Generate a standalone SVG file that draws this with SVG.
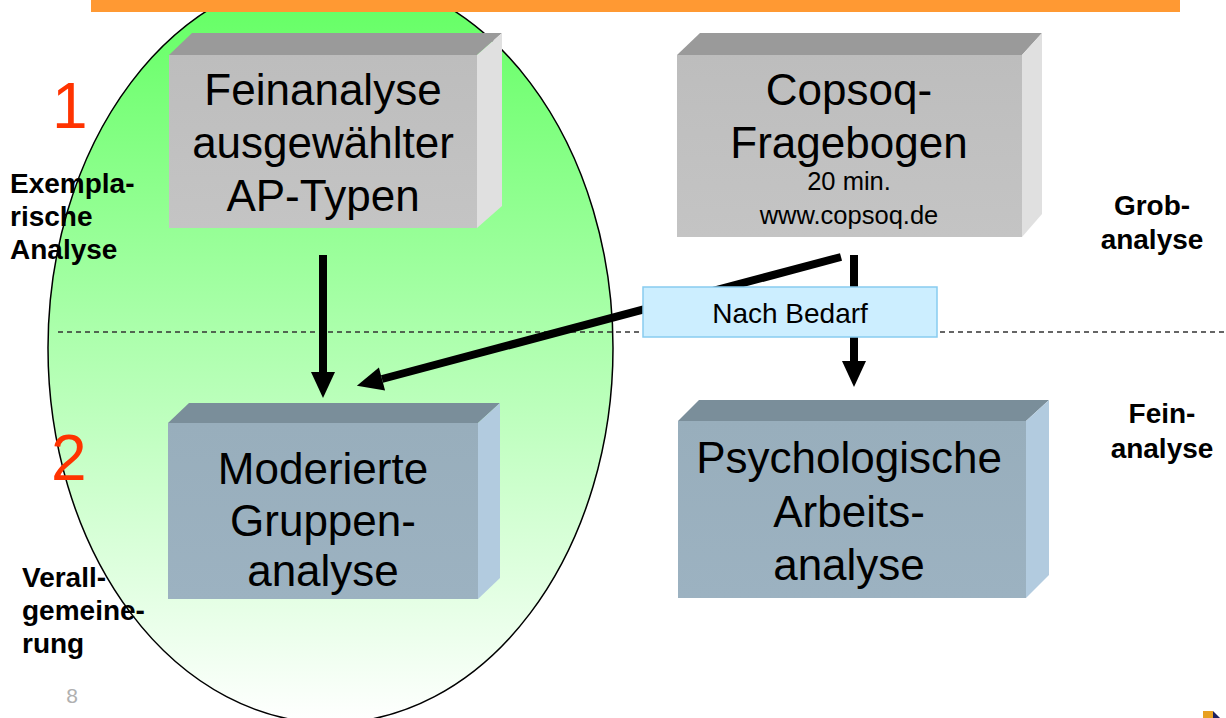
<svg xmlns="http://www.w3.org/2000/svg" width="1226" height="718" viewBox="0 0 1226 718">
<defs>
<linearGradient id="gEll" gradientUnits="userSpaceOnUse" x1="0" y1="-27" x2="0" y2="723">
<stop offset="0" stop-color="#5fff5f"/>
<stop offset="1" stop-color="#ffffff"/>
</linearGradient>
<linearGradient id="gGrayFront" x1="0" y1="0" x2="0" y2="1">
<stop offset="0" stop-color="#bdbdbd"/>
<stop offset="1" stop-color="#c4c4c4"/>
</linearGradient>
<linearGradient id="gBlueFront" x1="0" y1="0" x2="0" y2="1">
<stop offset="0" stop-color="#98aebc"/>
<stop offset="1" stop-color="#9cb2c1"/>
</linearGradient>
<marker id="ah" markerUnits="userSpaceOnUse" markerWidth="27" markerHeight="24" refX="0" refY="12" orient="auto" overflow="visible">
<path d="M0,0 L26,12 L0,24 Z" fill="#000"/>
</marker>
</defs>
<style>
.big{font-family:"Liberation Sans",Arial,sans-serif;font-size:44px;fill:#000;text-anchor:middle}
.small{font-family:"Liberation Sans",Arial,sans-serif;font-size:25.5px;fill:#000;text-anchor:middle}
.tag{font-family:"Liberation Sans",Arial,sans-serif;font-size:28px;fill:#000;text-anchor:middle}
.lbl{font-family:"Liberation Sans",Arial,sans-serif;font-size:28px;font-weight:bold;fill:#000}
.num{font-family:"Liberation Sans",Arial,sans-serif;font-size:64px;fill:#ff3300}
.gTop{fill:#9a9a9a}
.gSide{fill:#e0e0e0}
.bTop{fill:#7a8e9a}
.bSide{fill:#b2cbdf}
.conn{stroke:#000;stroke-width:8;fill:none}
</style>
<rect width="1226" height="718" fill="#ffffff"/>
<g id="ellipse">
<ellipse cx="330.5" cy="348" rx="282.5" ry="375" fill="url(#gEll)" stroke="#000" stroke-width="1.5"/>
</g>
<rect id="titlebar" x="91" y="0" width="1089" height="12" fill="#ff9933"/>
<line id="divider" x1="58" y1="332" x2="1226" y2="332" stroke="#333" stroke-width="1.5" stroke-dasharray="5,4"/>
<g id="node-feinanalyse">
<polygon class="gTop" points="169,55 192,33 502,33 477,55"/>
<polygon class="gSide" points="477,55 502,33 502,206 477,228"/>
<rect x="169" y="55" width="308" height="173" fill="url(#gGrayFront)"/>
<text class="big" x="323" y="105">Feinanalyse</text>
<text class="big" x="323" y="158">ausgewählter</text>
<text class="big" x="323" y="211">AP-Typen</text>
</g>
<g id="node-copsoq">
<polygon class="gTop" points="677,55 700,33 1042,33 1022,55"/>
<polygon class="gSide" points="1022,55 1042,33 1042,214 1022,237"/>
<rect x="677" y="55" width="345" height="182" fill="url(#gGrayFront)"/>
<text class="big" x="849" y="105">Copsoq-</text>
<text class="big" x="849" y="158">Fragebogen</text>
<text class="small" x="849" y="190">20 min.</text>
<text class="small" x="849" y="224">www.copsoq.de</text>
</g>
<g id="node-moderierte">
<polygon class="bTop" points="168,423 189,403 500,403 478,423"/>
<polygon class="bSide" points="478,423 500,403 500,578 478,599"/>
<rect x="168" y="423" width="310" height="176" fill="url(#gBlueFront)"/>
<text class="big" x="323" y="484">Moderierte</text>
<text class="big" x="323" y="536">Gruppen-</text>
<text class="big" x="323" y="586">analyse</text>
</g>
<g id="node-psychologische">
<polygon class="bTop" points="678,421 699,400 1049,400 1026,421"/>
<polygon class="bSide" points="1026,421 1049,400 1049,575 1026,598"/>
<rect x="678" y="421" width="348" height="177" fill="url(#gBlueFront)"/>
<text class="big" x="849" y="473">Psychologische</text>
<text class="big" x="849" y="527">Arbeits-</text>
<text class="big" x="849" y="580">analyse</text>
</g>
<g id="connectors">
<line class="conn" x1="323" y1="255" x2="323" y2="372" marker-end="url(#ah)"/>
<line class="conn" x1="841" y1="257" x2="382" y2="379" marker-end="url(#ah)"/>
<line class="conn" x1="854" y1="255" x2="854" y2="361" marker-end="url(#ah)"/>
<g id="label-nach-bedarf">
<rect x="643" y="287" width="294" height="50" fill="#cceeff" stroke="#88ccf0" stroke-width="1.5"/>
<text class="tag" x="790" y="323">Nach Bedarf</text>
</g>
</g>
<g id="side-labels">
<text class="num" x="52" y="128">1</text>
<text class="num" x="51" y="480">2</text>
<text class="lbl" x="10" y="193">Exempla-</text>
<text class="lbl" x="10" y="226">rische</text>
<text class="lbl" x="10" y="259">Analyse</text>
<text class="lbl" x="22" y="587">Verall-</text>
<text class="lbl" x="22" y="620">gemeine-</text>
<text class="lbl" x="22" y="653">rung</text>
<text class="lbl" x="1152" y="215" text-anchor="middle">Grob-</text>
<text class="lbl" x="1152" y="249" text-anchor="middle">analyse</text>
<text class="lbl" x="1162" y="423" text-anchor="middle">Fein-</text>
<text class="lbl" x="1162" y="458" text-anchor="middle">analyse</text>
</g>
<text id="page-number" x="72" y="703" text-anchor="middle" font-family="Liberation Sans, Arial, sans-serif" font-size="21" fill="#b0b0b0">8</text>
<g id="logo">
<rect x="1203" y="711" width="10" height="7" fill="#e8a020"/>
<polygon points="1213,711 1220,718 1213,718" fill="#1c2060"/>
</g>
</svg>
